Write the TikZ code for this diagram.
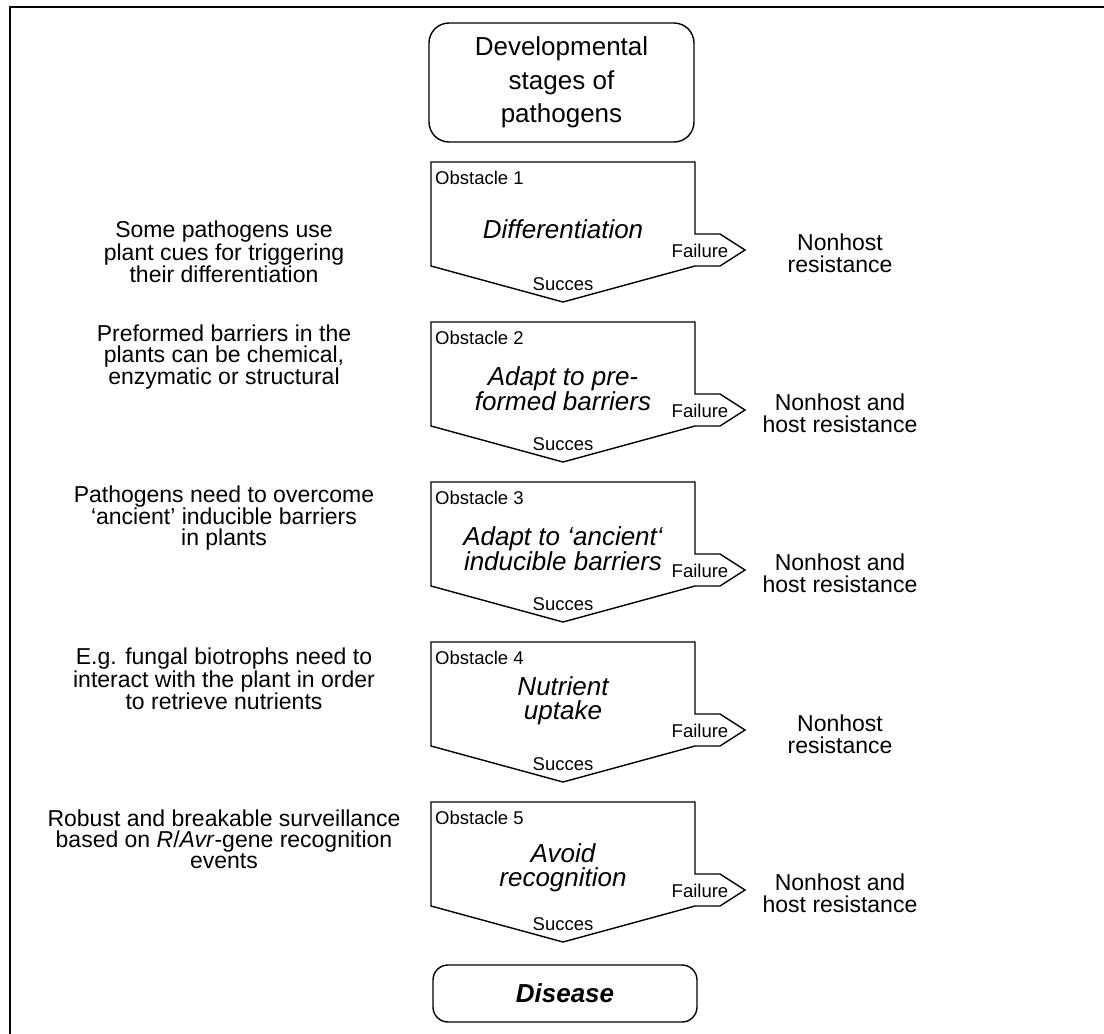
\documentclass[tikz,border=0pt]{standalone}
\usepackage{fontspec}
\setmainfont{Liberation Sans}
\begin{document}
\begin{tikzpicture}[x=1pt,y=-1pt]
\tikzset{
  obst/.style={draw, line width=1.4pt, line join=miter},
  roundbox/.style={draw, line width=1.4pt, inner sep=0pt, align=center},
  maintext/.style={font=\fontsize{26}{24}\selectfont\itshape, align=center, inner sep=0pt},
  lefttext/.style={font=\fontsize{23}{21}\selectfont, align=center, inner sep=0pt},
  righttext/.style={font=\fontsize{23}{22}\selectfont, align=center, inner sep=0pt},
  smalltext/.style={font=\fontsize{18.5}{21}\selectfont, inner sep=0pt},
}
\useasboundingbox (0,0) rectangle (1104,1034);
% outer frame (cut off at right and bottom)
\draw[line width=2pt] (9.5,1050) -- (9.5,6.5) -- (1120,6.5);

% start box
\node[roundbox, rounded corners=20pt, minimum width=265pt, minimum height=119pt,
      font=\fontsize{26}{33.5}\selectfont] (start) at (561.5,82.5)
      {Developmental\\stages of\\pathogens};

% obstacle shapes
\foreach \i/\y in {1/162,2/322,3/482,4/642,5/802}{
  \draw[obst] (431,\y) -- ++(264,0) -- ++(0,72) -- ++(25,0) -- ++(25,16)
     -- ++(-25,16) -- ++(-25,0) -- ++(-132,36) -- ++(-132,-36) -- cycle;
  \node[smalltext, anchor=west] (lab\i) at (435,\y+16) {Obstacle \i};
  \node[smalltext] (fail\i) at (700,\y+89) {Failure};
  \node[smalltext] (succ\i) at (563,\y+122) {Succes};
}

% main texts
\node[maintext] (m1) at (563,229) {Differentiation};
\node[maintext] (m2) at (563,389) {Adapt to pre-\\formed barriers};
\node[maintext] (m3) at (563,549) {Adapt to ‘ancient‘\\inducible barriers};
\node[maintext] (m4) at (563,701) {Nutrient\\uptake};
\node[maintext] (m5) at (563,868) {Avoid\\recognition};

% left texts
\node[lefttext] (l1) at (224,252) {Some pathogens use\\plant cues for triggering\\their differentiation};
\node[lefttext] (l2) at (224,357) {Preformed barriers in the\\plants can be chemical,\\enzymatic or structural};
\node[lefttext] (l3) at (224,518) {Pathogens need to overcome\\‘ancient’ inducible barriers\\in plants};
\node[lefttext] (l4) at (224,679) {E.g. fungal biotrophs need to\\interact with the plant in order\\to retrieve nutrients};
\node[lefttext] (l5) at (224,839) {Robust and breakable surveillance\\based on \textit{R}/\textit{Avr}-gene recognition\\events};

% right texts
\node[righttext] (r1) at (840,253) {Nonhost\\resistance};
\node[righttext] (r2) at (840,413) {Nonhost and\\host resistance};
\node[righttext] (r3) at (840,573) {Nonhost and\\host resistance};
\node[righttext] (r4) at (840,734) {Nonhost\\resistance};
\node[righttext] (r5) at (840,893) {Nonhost and\\host resistance};

% end box
\node[roundbox, rounded corners=15pt, minimum width=264pt, minimum height=57pt,
      font=\fontsize{26}{30}\selectfont\bfseries\itshape] (end) at (565,993.5) {Disease};
\end{tikzpicture}
\end{document}
